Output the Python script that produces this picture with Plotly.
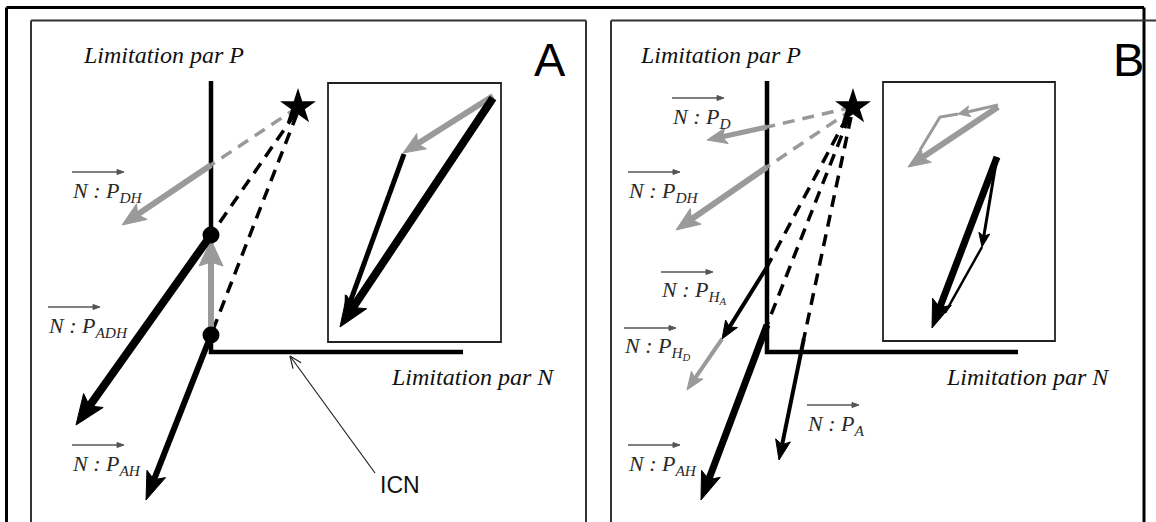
import math
import plotly.graph_objects as go

W, H = 1156, 522
ORIGIN_A = [211, 352]   # pixel position of panel A axis corner
ORIGIN_B = [767, 352]   # pixel position of panel B axis corner

GRAY = "#9a9a9a"
BLACK = "#000000"

# ---------------- data (local coords: origin at axis corner, y up, 1 unit = 1 px) -------------
axis_P_len = [271, 271]          # A, B
axis_N_len = [252, 251]          # A, B
star_A = [87, 245]
star_B = [86, 245]
dots_A_y = [117, 17]

# Panel A vectors [x0, y0, x1, y1]
A_dash_gray = [[87, 245, 0, 187]]
A_dash_black = [[84, 238, 0, 117], [86, 238, 0, 17]]
A_gray_DH = [0, 187, -89, 127]
A_gray_up = [0, 17, 0, 112]
A_black_ADH = [0, 117, -135, -73]
A_black_AH = [0, 17, -65, -148]
A_inset_box = [117, 10, 290, 269]
A_inset_gray = [282, 256, 192, 199]
A_inset_thick = [282, 254, 129, 25]
A_inset_med = [193, 198, 134, 36]
A_ICN = [164, -121, 79, -4]

# Panel B vectors
B_dash_gray = [[86, 245, 0, 225], [86, 243, 0, 185]]
B_dash_black = [[80, 235, 0, 85], [82, 235, 0, 27], [84, 235, 37, 14]]
B_gray_D = [0, 225, -60, 212]
B_gray_DH = [0, 185, -91, 122]
B_black_A = [37, 14, 12, -108]
B_black_HA = [0, 85, -45, 13]
B_gray_HD = [-45, 13, -80, -38]
B_black_AH = [0, 27, -66, -148]
B_inset_box = [116, 11, 288, 270]
B_inset_gray_thick = [231, 245, 141, 185]
B_inset_gray_thin = [231, 247, 191, 238]
B_inset_gray_tail = [[191, 173, 153], [238, 235, 202]]
B_inset_black_thick = [230, 195, 165, 24]
B_inset_black_thin = [230, 195, 215, 105]
B_inset_black_tail = [215, 105, 178, 39]

# Labels: [x_left, y_center, main, subscript]
A_labels = [[-141, 160, "N : P", "DH"], [-165, 25, "N : P", "ADH"], [-141, -113, "N : P", "AH"]]
B_labels = [[-97, 234, "N : P", "D"], [-141, 160, "N : P", "DH"], [-108, 60, "N : P", "H<sub>A</sub>"],
            [-145, 4, "N : P", "H<sub>D</sub>"], [-141, -113, "N : P", "AH"], [38, -73, "N : P", "A"]]
axis_titles = ["Limitation par P", "Limitation par N"]
panel_letters = ["A", "B"]

# ---------------- figure ----------------
fig = go.Figure()


def seg_line(xa, xs, ys, w, color, dash=None):
    fig.add_trace(go.Scatter(x=xs, y=ys, mode="lines", xaxis=xa, yaxis="y",
                             line=dict(color=color, width=w, dash=dash),
                             hoverinfo="skip", showlegend=False))


def arrow(xa, seg, w, color, hl=None, hw=None, notch=0.78):
    x0, y0, x1, y1 = seg
    dx, dy = x1 - x0, y1 - y0
    L = math.hypot(dx, dy)
    ux, uy = dx / L, dy / L
    nx, ny = -uy, ux
    if hl is None:
        hl = 2.6 * w + 8
    if hw is None:
        hw = 2.0 * w + 6
    bx, by = x1 - hl * ux, y1 - hl * uy
    mx, my = x1 - notch * hl * ux, y1 - notch * hl * uy
    seg_line(xa, [x0, mx], [y0, my], w, color)
    fig.add_trace(go.Scatter(
        x=[x1, bx + nx * hw / 2, mx, bx - nx * hw / 2, x1],
        y=[y1, by + ny * hw / 2, my, by - ny * hw / 2, y1],
        mode="lines", fill="toself", fillcolor=color, xaxis=xa, yaxis="y",
        line=dict(color=color, width=1), hoverinfo="skip", showlegend=False))


def open_arrow(xa, seg, w, color, hl=12, hw=10):
    x0, y0, x1, y1 = seg
    dx, dy = x1 - x0, y1 - y0
    L = math.hypot(dx, dy)
    ux, uy = dx / L, dy / L
    nx, ny = -uy, ux
    bx, by = x1 - hl * ux, y1 - hl * uy
    seg_line(xa, [x0, x1], [y0, y1], w, color)
    seg_line(xa, [bx + nx * hw / 2, x1, bx - nx * hw / 2],
             [by + ny * hw / 2, y1, by - ny * hw / 2], w, color)


def label(xa, x, y, main, sub):
    fig.add_annotation(x=x, y=y, xref=xa, yref="y", showarrow=False,
                       xanchor="left", yanchor="middle",
                       text=f"<i>{main}</i><sub><i>{sub}</i></sub>",
                       font=dict(family="Liberation Serif", size=22, color="#2a2a2a"))
    arrow(xa, [x + 2, y + 20, x + 54, y + 20], 1.3, "#555555", hl=7, hw=5, notch=1.0)


DASH = "12px,8px"

for xa, org, P, N, star in [("x", ORIGIN_A, axis_P_len[0], axis_N_len[0], star_A),
                            ("x2", ORIGIN_B, axis_P_len[1], axis_N_len[1], star_B)]:
    seg_line(xa, [0, 0, N], [P, 0, 0], 4.5, BLACK)

# ---- Panel A ----
for s in A_dash_gray:
    seg_line("x", [s[0], s[2]], [s[1], s[3]], 3.5, GRAY, DASH)
for s in A_dash_black:
    seg_line("x", [s[0], s[2]], [s[1], s[3]], 3.5, BLACK, DASH)
arrow("x", A_gray_DH, 6, GRAY, hl=24, hw=19)
arrow("x", A_gray_up, 6, GRAY, hl=26, hw=24, notch=0.85)
arrow("x", A_black_ADH, 8, BLACK, hl=30, hw=24)
arrow("x", A_black_AH, 6, BLACK, hl=28, hw=20)
arrow("x", A_inset_gray, 6, GRAY, hl=22, hw=18)
arrow("x", A_inset_med, 5, BLACK, hl=20, hw=14)
arrow("x", A_inset_thick, 8, BLACK, hl=30, hw=24)
open_arrow("x", A_ICN, 1.2, "#222222")
fig.add_trace(go.Scatter(x=[0, 0], y=dots_A_y, mode="markers", xaxis="x", yaxis="y",
                         marker=dict(color=BLACK, size=17), hoverinfo="skip", showlegend=False))

# ---- Panel B ----
for s in B_dash_gray:
    seg_line("x2", [s[0], s[2]], [s[1], s[3]], 3.5, GRAY, DASH)
for s in B_dash_black:
    seg_line("x2", [s[0], s[2]], [s[1], s[3]], 3.5, BLACK, DASH)
arrow("x2", B_gray_D, 5, GRAY, hl=20, hw=16)
arrow("x2", B_gray_DH, 6, GRAY, hl=24, hw=19)
arrow("x2", B_gray_HD, 4, GRAY, hl=18, hw=14)
arrow("x2", B_black_HA, 4, BLACK, hl=18, hw=14)
arrow("x2", B_black_A, 4, BLACK, hl=20, hw=15)
arrow("x2", B_black_AH, 7, BLACK, hl=28, hw=20)
arrow("x2", B_inset_gray_thick, 6, GRAY, hl=22, hw=18)
arrow("x2", B_inset_gray_thin, 3, GRAY, hl=12, hw=11)
seg_line("x2", B_inset_gray_tail[0], B_inset_gray_tail[1], 3, GRAY)
seg_line("x2", [B_inset_black_tail[0], B_inset_black_tail[2]],
         [B_inset_black_tail[1], B_inset_black_tail[3]], 2.5, BLACK)
arrow("x2", B_inset_black_thin, 3, BLACK, hl=14, hw=11)
arrow("x2", B_inset_black_thick, 7, BLACK, hl=28, hw=20)

# stars
fig.add_trace(go.Scatter(x=[star_A[0]], y=[star_A[1]], mode="markers", xaxis="x", yaxis="y",
                         marker=dict(symbol="star", color=BLACK, size=27), hoverinfo="skip", showlegend=False))
fig.add_trace(go.Scatter(x=[star_B[0]], y=[star_B[1]], mode="markers", xaxis="x2", yaxis="y",
                         marker=dict(symbol="star", color=BLACK, size=27), hoverinfo="skip", showlegend=False))

# inset boxes
for xa, b in [("x", A_inset_box), ("x2", B_inset_box)]:
    fig.add_shape(type="rect", xref=xa, yref="y", x0=b[0], y0=b[1], x1=b[2], y1=b[3],
                  line=dict(color="#222222", width=1.8))

# labels
for l in A_labels:
    label("x", *l)
for l in B_labels:
    label("x2", *l)

serif_it = dict(family="Liberation Serif", size=24, color="#111111")
for xa in ["x", "x2"]:
    fig.add_annotation(x=-48 if xa == "x" else -47, y=297, xref=xa, yref="y", showarrow=False,
                       text=f"<i>{axis_titles[0]}</i>", font=serif_it)
    fig.add_annotation(x=262 if xa == "x" else 261, y=-25, xref=xa, yref="y", showarrow=False,
                       text=f"<i>{axis_titles[1]}</i>", font=serif_it)
fig.add_annotation(x=339, y=293, xref="x", yref="y", showarrow=False, text=panel_letters[0],
                   font=dict(family="Liberation Sans", size=47, color="#000000"))
fig.add_annotation(x=361, y=293, xref="x2", yref="y", showarrow=False, text=panel_letters[1],
                   font=dict(family="Liberation Sans", size=47, color="#000000"))
fig.add_annotation(x=189, y=-133, xref="x", yref="y", showarrow=False, text="ICN",
                   font=dict(family="Liberation Sans", size=23, color="#111111"))

# frames (pixel positions converted to panel A coordinates)
def X(px):
    return px - ORIGIN_A[0]


def Y(py):
    return ORIGIN_A[1] - py


frame_lines = [
    (6.5, 7.5, 1144, 7.5, 3, "#000000"),
    (6.5, 7.5, 6.5, 540, 3, "#000000"),
    (1144, 7.5, 1144, 540, 3, "#000000"),
    (31, 20.5, 586, 20.5, 2, "#333333"),
    (31, 20.5, 31, 540, 2, "#333333"),
    (586, 20.5, 586, 540, 2, "#333333"),
    (611, 20.5, 1170, 20.5, 2, "#333333"),
    (611, 20.5, 611, 540, 2, "#333333"),
]
for x0, y0, x1, y1, w, c in frame_lines:
    fig.add_shape(type="line", xref="x", yref="y", x0=X(x0), y0=Y(y0), x1=X(x1), y1=Y(y1),
                  line=dict(color=c, width=w))

fig.update_layout(
    width=W, height=H, margin=dict(l=0, r=0, t=0, b=0),
    paper_bgcolor="white", plot_bgcolor="white", showlegend=False,
    xaxis=dict(range=[-ORIGIN_A[0], W - ORIGIN_A[0]], visible=False, fixedrange=True),
    xaxis2=dict(range=[-ORIGIN_B[0], W - ORIGIN_B[0]], visible=False, overlaying="x",
                anchor="y", fixedrange=True),
    yaxis=dict(range=[ORIGIN_A[1] - H, ORIGIN_A[1]], visible=False, fixedrange=True),
)

fig.write_html("out.html", config={"displayModeBar": False, "staticPlot": True},
               post_script="document.body.style.margin='0';document.body.style.overflow='hidden';")
